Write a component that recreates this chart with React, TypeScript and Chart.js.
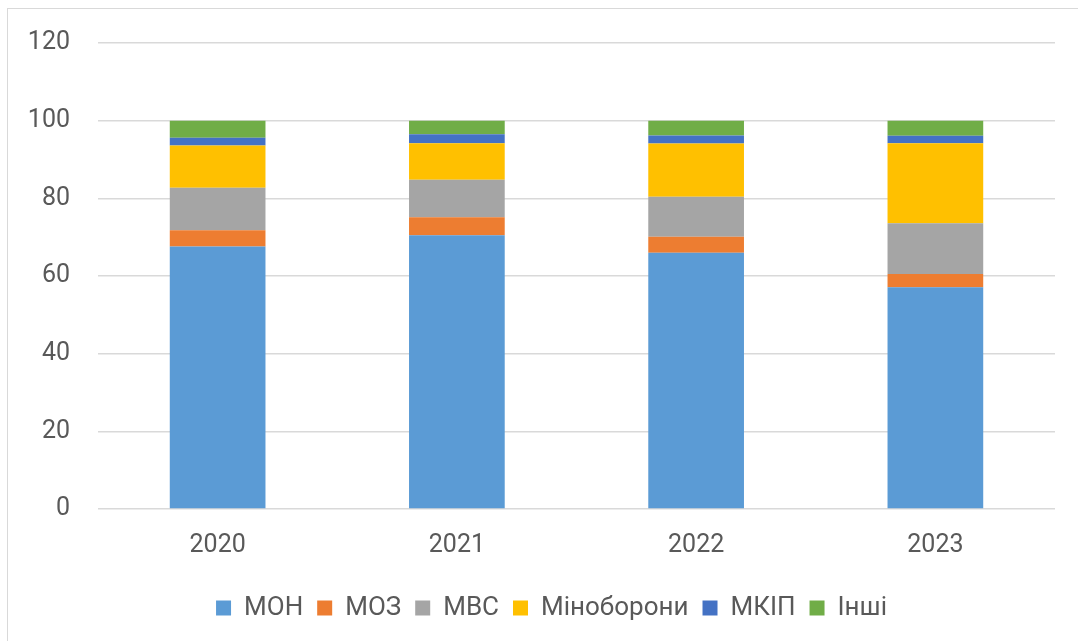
import React, { useEffect, useRef } from "react";
import { Chart, registerables } from "chart.js";

Chart.register(...registerables);

const years = ["2020", "2021", "2022", "2023"];
const mon = [67.6, 70.5, 66.0, 57.1];
const moz = [4.2, 4.6, 4.1, 3.4];
const mvs = [10.9, 9.7, 10.3, 13.1];
const minoborony = [10.9, 9.4, 13.7, 20.6];
const mkip = [2.0, 2.3, 2.1, 1.9];
const inshi = [4.4, 3.5, 3.8, 3.9];
const yTicks = [0, 20, 40, 60, 80, 100, 120];

const FONT = "Roboto";
const TEXT = "#595959";

const legendShift = {
  id: "legendShift",
  afterLayout(chart: any) {
    const lg = chart.legend;
    if (lg) {
      lg.left += 24;
      lg.right += 24;
    }
  },
};

export default function App() {
  const ref = useRef<HTMLCanvasElement>(null);
  useEffect(() => {
    const mk = (label: string, data: number[], color: string) => ({
      label,
      data,
      backgroundColor: color,
      borderWidth: 0,
      barPercentage: 0.4,
      categoryPercentage: 1,
    });
    const chart = new Chart(ref.current!, {
      type: "bar",
      data: {
        labels: years,
        datasets: [
          mk("МОН", mon, "#5B9BD5"),
          mk("МОЗ", moz, "#ED7D31"),
          mk("МВС", mvs, "#A5A5A5"),
          mk("Міноборони", minoborony, "#FFC000"),
          mk("МКІП", mkip, "#4472C4"),
          mk("Інші", inshi, "#70AD47"),
        ],
      },
      plugins: [legendShift],
      options: {
        animation: false,
        responsive: false,
        maintainAspectRatio: false,
        layout: { padding: { top: 32, right: 23, left: 0, bottom: 10 } },
        plugins: {
          tooltip: { enabled: false },
          legend: {
            position: "bottom",
            labels: {
              color: TEXT,
              font: { family: FONT, size: 26 },
              boxWidth: 15,
              boxHeight: 15,
              padding: 14,
            },
          },
        },
        scales: {
          x: {
            stacked: true,
            grid: { display: false, drawTicks: false },
            border: { display: false },
            ticks: { color: TEXT, font: { family: FONT, size: 25 }, padding: 22 },
            afterFit: (s: any) => {
              s.height = s.height - 2;
            },
          },
          y: {
            stacked: true,
            min: 0,
            max: 120,
            afterBuildTicks: (s: any) => {
              s.ticks = yTicks.map((v) => ({ value: v }));
            },
            afterFit: (s: any) => {
              s.width = 98;
            },
            grid: { color: "#D9D9D9", lineWidth: 1.5, drawTicks: false },
            border: { display: false },
            ticks: { color: TEXT, font: { family: FONT, size: 25 }, padding: 28 },
          },
        },
      },
    });
    return () => chart.destroy();
  }, []);
  return (
    <div style={{ position: "fixed", left: 0, top: 0, width: 1078, height: 641, background: "#fff", overflow: "hidden" }}>
      <canvas ref={ref} width={1078} height={641} style={{ position: "absolute", left: 0, top: 0 }} />
      <div
        style={{
          position: "absolute",
          left: 7,
          top: 8,
          width: 1100,
          height: 700,
          border: "1.5px solid #D9D9D9",
          pointerEvents: "none",
        }}
      />
    </div>
  );
}
